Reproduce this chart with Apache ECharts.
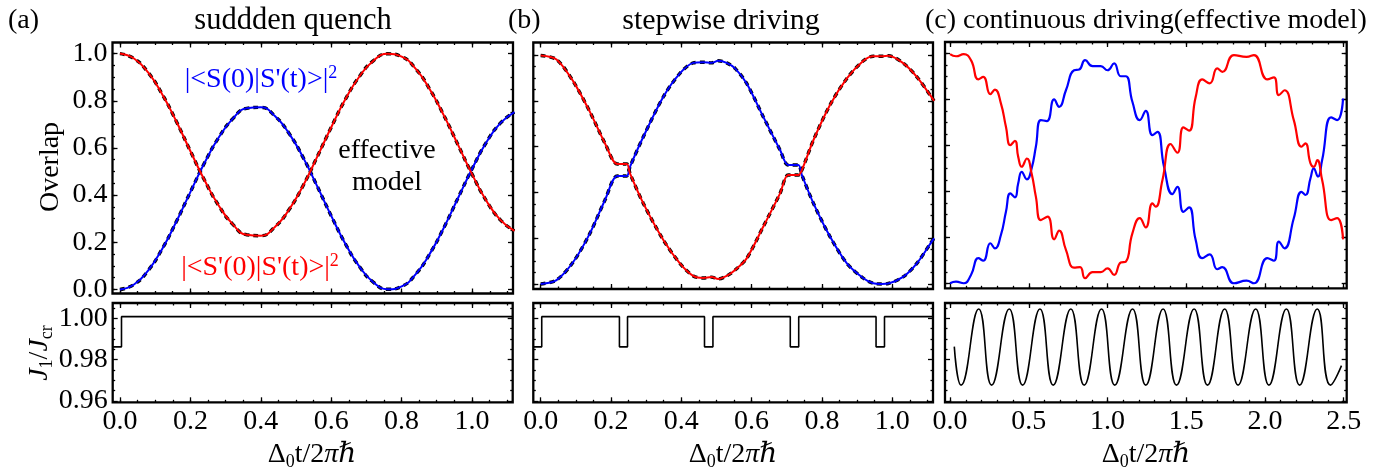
<!DOCTYPE html>
<html>
<head>
<meta charset="utf-8">
<script src="https://cdn.jsdelivr.net/npm/echarts@6/dist/echarts.min.js"></script>
<style>
html, body { margin: 0; padding: 0; background: #fff; }
#main { width: 1375px; height: 468px; }
</style>
</head>
<body>
<div id="main"></div>
<script>
// (a) sudden quench: overlaps
var aX    = [0, 0.04, 0.08, 0.12, 0.16, 0.2, 0.24, 0.28, 0.32, 0.36, 0.4, 0.44, 0.48, 0.52, 0.56, 0.6, 0.64, 0.68, 0.72, 0.76, 0.8, 0.84, 0.88, 0.92, 0.96, 1.0, 1.04, 1.08, 1.12];
var aRed  = [1.000, 0.979, 0.920, 0.828, 0.713, 0.587, 0.464, 0.357, 0.277, 0.232, 0.228, 0.265, 0.338, 0.440, 0.562, 0.688, 0.806, 0.903, 0.970, 0.999, 0.987, 0.935, 0.848, 0.737, 0.613, 0.488, 0.377, 0.295, 0.248];
var aBlue = [0.000, 0.021, 0.080, 0.172, 0.287, 0.413, 0.536, 0.643, 0.723, 0.768, 0.772, 0.735, 0.662, 0.560, 0.438, 0.312, 0.194, 0.097, 0.030, 0.001, 0.013, 0.065, 0.152, 0.263, 0.388, 0.512, 0.623, 0.705, 0.752];

// (b) stepwise driving
var bX    = [0, 0.045, 0.093, 0.14, 0.183, 0.218, 0.245, 0.254, 0.292, 0.349, 0.396, 0.434, 0.463, 0.486, 0.505, 0.529, 0.553, 0.586, 0.633, 0.681, 0.704, 0.733, 0.743, 0.776, 0.823, 0.871, 0.918, 0.946, 0.97, 0.989, 1.032, 1.07, 1.108, 1.119];
var bRed  = [0.998, 0.981, 0.884, 0.752, 0.614, 0.524, 0.524, 0.483, 0.352, 0.192, 0.090, 0.035, 0.026, 0.030, 0.022, 0.035, 0.061, 0.112, 0.250, 0.396, 0.476, 0.476, 0.498, 0.629, 0.782, 0.898, 0.975, 0.995, 0.995, 0.997, 0.964, 0.905, 0.825, 0.800];
var bBlue = [0.000, 0.017, 0.097, 0.221, 0.367, 0.472, 0.472, 0.512, 0.643, 0.818, 0.920, 0.966, 0.969, 0.966, 0.975, 0.966, 0.942, 0.876, 0.731, 0.585, 0.520, 0.520, 0.476, 0.352, 0.207, 0.090, 0.025, 0.003, 0.000, 0.002, 0.032, 0.090, 0.175, 0.200];

// (c) continuous driving
var cRedX  = [0, 0.038, 0.087, 0.133, 0.18, 0.211, 0.256, 0.285, 0.323, 0.355, 0.383, 0.412, 0.433, 0.455, 0.488, 0.518, 0.545, 0.577, 0.62, 0.661, 0.693, 0.736, 0.788, 0.826, 0.858, 0.905, 0.957, 1.0, 1.042, 1.084, 1.116, 1.158, 1.205, 1.243, 1.285, 1.306, 1.349, 1.401, 1.444, 1.482, 1.518, 1.56, 1.602, 1.649, 1.697, 1.729, 1.803, 1.883, 1.93, 2.015, 2.057, 2.088, 2.124, 2.183, 2.232, 2.257, 2.289, 2.31, 2.332, 2.363, 2.42, 2.458, 2.496];
var cRedY  = [0.997, 0.988, 0.997, 0.971, 0.887, 0.898, 0.823, 0.843, 0.783, 0.681, 0.601, 0.62, 0.55, 0.507, 0.543, 0.478, 0.377, 0.275, 0.29, 0.191, 0.229, 0.145, 0.068, 0.07, 0.022, 0.048, 0.048, 0.065, 0.036, 0.09, 0.094, 0.217, 0.283, 0.243, 0.348, 0.333, 0.449, 0.606, 0.568, 0.678, 0.664, 0.811, 0.887, 0.87, 0.935, 0.92, 0.993, 0.985, 0.993, 0.887, 0.896, 0.819, 0.84, 0.71, 0.594, 0.609, 0.522, 0.507, 0.536, 0.449, 0.275, 0.283, 0.191];
var cBlueX = [0, 0.038, 0.087, 0.133, 0.18, 0.211, 0.256, 0.285, 0.323, 0.355, 0.383, 0.412, 0.433, 0.455, 0.488, 0.518, 0.545, 0.577, 0.615, 0.661, 0.693, 0.736, 0.788, 0.82, 0.858, 0.905, 0.957, 1.0, 1.042, 1.084, 1.116, 1.158, 1.205, 1.243, 1.285, 1.317, 1.359, 1.412, 1.444, 1.482, 1.518, 1.56, 1.602, 1.649, 1.697, 1.729, 1.803, 1.883, 1.93, 2.015, 2.057, 2.088, 2.124, 2.183, 2.232, 2.257, 2.289, 2.31, 2.336, 2.363, 2.42, 2.458, 2.496];
var cBlueY = [0.0, 0.007, 0.0, 0.036, 0.109, 0.098, 0.174, 0.152, 0.21, 0.311, 0.391, 0.374, 0.435, 0.485, 0.452, 0.5, 0.594, 0.71, 0.706, 0.8, 0.768, 0.84, 0.927, 0.93, 0.971, 0.945, 0.945, 0.927, 0.957, 0.901, 0.901, 0.79, 0.71, 0.75, 0.645, 0.659, 0.507, 0.388, 0.42, 0.311, 0.33, 0.188, 0.109, 0.126, 0.061, 0.07, 0.0, 0.011, 0.0, 0.109, 0.098, 0.181, 0.152, 0.283, 0.398, 0.384, 0.457, 0.5, 0.464, 0.536, 0.722, 0.71, 0.804];

// J1/Jcr protocols (lower panels)
var aStepX = [-0.021, 0.004, 0.004, 1.116];
var aStepY = [0.9862, 0.9862, 1.0008, 1.0008];
var bStepX = [-0.021, 0.003, 0.003, 0.224, 0.224, 0.247, 0.247, 0.466, 0.466, 0.49, 0.49, 0.71, 0.71, 0.734, 0.734, 0.954, 0.954, 0.978, 0.978, 1.116];
var bStepY = [0.9862, 0.9862, 1.0008, 1.0008, 0.9862, 0.9862, 1.0008, 1.0008, 0.9862, 0.9862, 1.0008, 1.0008, 0.9862, 0.9862, 1.0008, 1.0008, 0.9862, 0.9862, 1.0008, 1.0008];
var cDriveX = [0.027, 0.07, 0.182, 0.264, 0.376, 0.461, 0.571, 0.655, 0.767, 0.852, 0.962, 1.046, 1.159, 1.243, 1.353, 1.438, 1.55, 1.635, 1.744, 1.829, 1.941, 2.025, 2.136, 2.22, 2.332, 2.416, 2.486];
var cDriveY = [0.9863, 0.9677, 1.0045, 0.9677, 1.0045, 0.9677, 1.0045, 0.9677, 1.0045, 0.9677, 1.0045, 0.9677, 1.0045, 0.9677, 1.0045, 0.9677, 1.0045, 0.9677, 1.0045, 0.9677, 1.0045, 0.9677, 1.0045, 0.9677, 1.0045, 0.9677, 0.9771];

// tick values
var overlapTicks = [0, 0.2, 0.4, 0.6, 0.8, 1.0];
var overlapMinor = [0, 0.05, 0.1, 0.15, 0.2, 0.25, 0.3, 0.35, 0.4, 0.45, 0.5, 0.55, 0.6, 0.65, 0.7, 0.75, 0.8, 0.85, 0.9, 0.95, 1.0];
var abTimeTicks = [0, 0.2, 0.4, 0.6, 0.8, 1.0];
var abTimeMinor = [0, 0.05, 0.1, 0.15, 0.2, 0.25, 0.3, 0.35, 0.4, 0.45, 0.5, 0.55, 0.6, 0.65, 0.7, 0.75, 0.8, 0.85, 0.9, 0.95, 1.0, 1.05, 1.1];
var cTimeTicks = [0, 0.5, 1.0, 1.5, 2.0, 2.5];
var cTimeMinor = [0, 0.1, 0.2, 0.3, 0.4, 0.5, 0.6, 0.7, 0.8, 0.9, 1.0, 1.1, 1.2, 1.3, 1.4, 1.5, 1.6, 1.7, 1.8, 1.9, 2.0, 2.1, 2.2, 2.3, 2.4, 2.5];
var jTicks = [0.96, 0.98, 1.00];
var jMinor = [0.965, 0.97, 0.975, 0.985, 0.99, 0.995, 1.005];

var FONT = '"Liberation Serif", "DejaVu Serif", serif';
var FS = 28;
var RED = '#ff0000', BLUE = '#0000ff';

var grids = [], xAxes = [], yAxes = [], series = [];

function zip(xs, ys) {
	var out = [];
	for (var i = 0; i < xs.length; i++) out.push([xs[i], ys[i]]);
	return out;
}

function mkAxis(g, pos, range, ticks, major, digits, margin) {
	return {
		type: 'value', gridIndex: g, position: pos, min: range[0], max: range[1],
		axisLine: { show: false, onZero: false },
		axisTick: { show: true, inside: true, length: major ? 5 : 2.5, customValues: ticks,
			lineStyle: { color: '#000', width: 1.3 } },
		axisLabel: { show: digits != null, customValues: ticks, margin: margin,
			formatter: function (v) { return v.toFixed(digits); },
			fontFamily: FONT, fontSize: FS, color: '#000' },
		splitLine: { show: false },
		minorTick: { show: false }
	};
}

// box = [left, top, width, height] of the frame
function addPanel(box, xr, yr, xMaj, xMin, yMaj, yMin, xDigits, yDigits) {
	var g = grids.length;
	grids.push({ left: box[0], top: box[1], width: box[2], height: box[3],
		show: true, borderColor: '#000', borderWidth: 2.3, backgroundColor: 'transparent' });
	var xi = xAxes.length, yi = yAxes.length;
	xAxes.push(mkAxis(g, 'bottom', xr, xMaj, true, xDigits, 5));
	xAxes.push(mkAxis(g, 'top', xr, xMaj, true, null));
	xAxes.push(mkAxis(g, 'bottom', xr, xMin, false, null));
	xAxes.push(mkAxis(g, 'top', xr, xMin, false, null));
	yAxes.push(mkAxis(g, 'left', yr, yMaj, true, yDigits, 5));
	yAxes.push(mkAxis(g, 'right', yr, yMaj, true, null));
	yAxes.push(mkAxis(g, 'left', yr, yMin, false, null));
	yAxes.push(mkAxis(g, 'right', yr, yMin, false, null));
	return { x: xi, y: yi };
}

function line(p, xs, ys, color, width, smooth, dash) {
	series.push({
		type: 'line', xAxisIndex: p.x, yAxisIndex: p.y, data: zip(xs, ys),
		showSymbol: false, symbol: 'none', smooth: smooth, silent: true,
		lineStyle: { color: color, width: width, type: dash || 'solid' }
	});
}

var abRange = [-0.021, 1.116];
var cRange = [-0.032, 2.519];
var jRange = [0.9594, 1.0074];

var pa = addPanel([112.5, 42.5, 400.5, 251], abRange, [-0.017, 1.047], abTimeTicks, abTimeMinor, overlapTicks, overlapMinor, null, 1);
var pb = addPanel([533.3, 42.5, 399.7, 246.5], abRange, [-0.022, 1.055], abTimeTicks, abTimeMinor, overlapTicks, overlapMinor, null, null);
var pc = addPanel([945, 42, 401.7, 246.3], cRange, [-0.022, 1.05], cTimeTicks, cTimeMinor, overlapTicks, overlapMinor, null, null);
var qa = addPanel([112.7, 303, 400, 99.3], abRange, jRange, abTimeTicks, abTimeMinor, jTicks, jMinor, 1, 2);
var qb = addPanel([533.3, 303, 399.7, 99.3], abRange, jRange, abTimeTicks, abTimeMinor, jTicks, jMinor, 1, null);
var qc = addPanel([945, 303, 401.7, 99.3], cRange, jRange, cTimeTicks, cTimeMinor, jTicks, jMinor, 1, null);

// effective model (black dashed) underneath the exact curves
line(pa, aX, aBlue, '#000', 3.4, 0.5, [5, 4]);
line(pa, aX, aRed, '#000', 3.4, 0.5, [5, 4]);
line(pa, aX, aBlue, BLUE, 2, 0.5);
line(pa, aX, aRed, RED, 2, 0.5);

line(pb, bX, bBlue, '#000', 3.4, 0.3, [5, 4]);
line(pb, bX, bRed, '#000', 3.4, 0.3, [5, 4]);
line(pb, bX, bBlue, BLUE, 2, 0.3);
line(pb, bX, bRed, RED, 2, 0.3);

line(pc, cBlueX, cBlueY, BLUE, 2.2, 0.5);
line(pc, cRedX, cRedY, RED, 2.2, 0.5);

line(qa, aStepX, aStepY, '#000', 1.6, false);
line(qb, bStepX, bStepY, '#000', 1.6, false);
line(qc, cDriveX, cDriveY, '#000', 1.6, 0.5);

var RICH = {
	n: { fontFamily: FONT, fontSize: FS, lineHeight: 32, verticalAlign: 'middle', fill: '#000' },
	i: { fontFamily: FONT, fontSize: FS, fontStyle: 'italic', lineHeight: 32, verticalAlign: 'middle', fill: '#000' },
	s: { fontFamily: FONT, fontSize: 18, lineHeight: 16, verticalAlign: 'bottom', fill: '#000' },
	bn: { fontFamily: FONT, fontSize: FS, lineHeight: 32, verticalAlign: 'middle', fill: BLUE },
	bp: { fontFamily: FONT, fontSize: 18, lineHeight: 16, verticalAlign: 'top', fill: BLUE },
	rn: { fontFamily: FONT, fontSize: FS, lineHeight: 32, verticalAlign: 'middle', fill: RED },
	rp: { fontFamily: FONT, fontSize: 18, lineHeight: 16, verticalAlign: 'top', fill: RED }
};

function txt(x, y, text, align, extra, size) {
	var el = {
		type: 'text', x: x, y: y, silent: true,
		style: { text: text, fontFamily: FONT, fontSize: size || FS, fill: '#000',
			align: align || 'center', verticalAlign: 'middle',
			textAlign: align || 'center', textVerticalAlign: 'middle', rich: RICH }
	};
	if (extra) for (var k in extra) el[k] = extra[k];
	return el;
}

var graphics = [
	txt(8, 21, '(a)', 'left'),
	txt(293, 21, 'suddden quench', 'center', null, 30.5),
	txt(508, 21, '(b)', 'left'),
	txt(721, 21, 'stepwise driving', 'center', null, 30),
	txt(925, 21, '(c) continuous driving(effective model)', 'left'),
	txt(51, 167, 'Overlap', 'center', { rotation: Math.PI / 2 }),
	txt(40, 353, '{i|J}{s|1}{n|/}{i|J}{s|cr}', 'center', { rotation: Math.PI / 2 }),
	txt(261, 80, '{bn||<S(0)|S\'(t)>|}{bp|2}'),
	txt(260, 268, '{rn||<S\'(0)|S\'(t)>|}{rp|2}'),
	txt(387, 151, 'effective'),
	txt(387, 183, 'model'),
	txt(312, 455, '{n|Δ}{s|0}{n|t/2}{i|πℏ}'),
	txt(733, 455, '{n|Δ}{s|0}{n|t/2}{i|πℏ}'),
	txt(1146, 455, '{n|Δ}{s|0}{n|t/2}{i|πℏ}')
];

var chart = echarts.init(document.getElementById('main'), null, { renderer: 'canvas' });
chart.setOption({
	animation: false,
	backgroundColor: '#fff',
	grid: grids,
	xAxis: xAxes,
	yAxis: yAxes,
	series: series,
	graphic: graphics
});
</script>
</body>
</html>
